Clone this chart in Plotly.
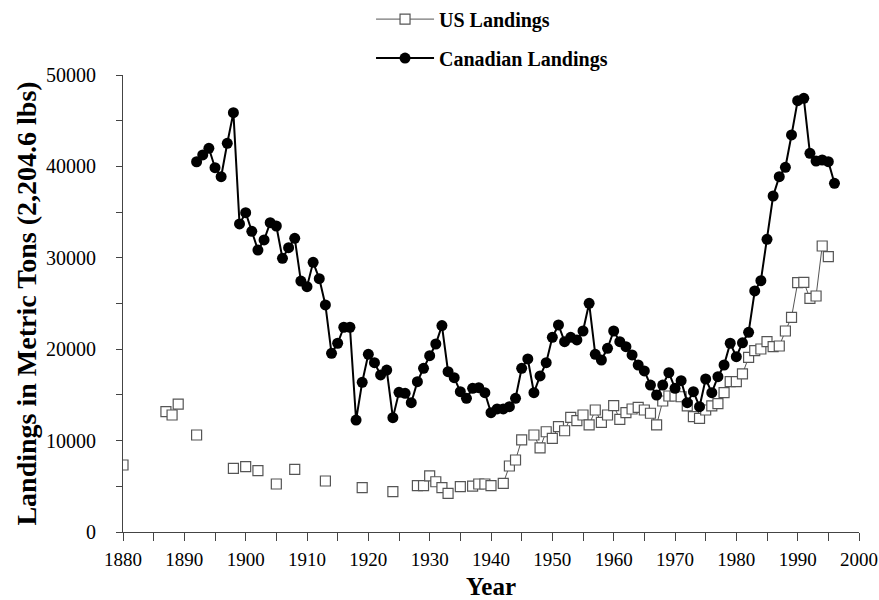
import plotly.graph_objects as go

# ---- data ----
can_years = list(range(1892, 1997))
can_values = [
    40510, 41250, 41980, 39860, 38870, 42530, 45880, 33700, 34940, 32900,   # 1892-1901
    30850, 31950, 33840, 33480, 29940, 31110, 32130, 27460, 26840, 29500,   # 1902-1911
    27720, 24840, 19550, 20650, 22400, 22400, 12250, 16380, 19440, 18520,   # 1912-1921
    17180, 17720, 12510, 15280, 15170, 14150, 16450, 17910, 19290, 20570,   # 1922-1931
    22580, 17540, 16880, 15350, 14630, 15720, 15790, 15240, 13050, 13460,   # 1932-1941
    13460, 13710, 14630, 17910, 18930, 15240, 17070, 18520, 21300, 22650,   # 1942-1951
    20820, 21300, 21010, 21990, 25020, 19440, 18820, 20100, 21990, 20820,   # 1952-1961
    20280, 19370, 18270, 17620, 16080, 14990, 16080, 17430, 15720, 16560,   # 1962-1971
    14150, 15350, 13710, 16740, 15240, 16990, 18270, 20650, 19180, 20700,   # 1972-1981
    21850, 26370, 27500, 32020, 36760, 38880, 39900, 43440, 47190, 47450,   # 1982-1991
    41430, 40590, 40700, 40520, 38150,                                      # 1992-1996
]

us_years = [
    1880, 1881, 1887, 1888, 1889, 1890, 1892, 1893, 1898, 1899, 1900, 1901,
    1902, 1903, 1905, 1906, 1908, 1909, 1913, 1914, 1919, 1920, 1924, 1925,
    1928, 1929, 1930, 1931, 1932, 1933, 1934, 1935, 1936, 1937, 1938, 1939,
    1940, 1941, 1942, 1943, 1944, 1945, 1946, 1947, 1948, 1949, 1950, 1951,
    1952, 1953, 1954, 1955, 1956, 1957, 1958, 1959, 1960, 1961, 1962, 1963,
    1964, 1965, 1966, 1967, 1968, 1969, 1970, 1971, 1972, 1973, 1974, 1975,
    1976, 1977, 1978, 1979, 1980, 1981, 1982, 1983, 1984, 1985, 1986, 1987,
    1988, 1989, 1990, 1991, 1992, 1993, 1994, 1995,
]
us_values = [
    7330, None, 13160, 12800, 14000, None, 10610, None, 6970, None, 7150, None,
    6710, None, 5250, None, 6860, None, 5580, None, 4850, None, 4410, None,
    5070, 5070, 6130, 5500, 4850, 4230, None, 4960, None, 5030, 5250, 5250,
    5070, None, 5330, 7220, 7880, 10070, None, 10610, 9200, 10970, 10250, 11520,
    11080, 12550, 12180, 12800, 11710, 13350, 12000, 12800, 13820, 12330, 13050, 13460,
    13640, 13350, 12990, 11710, 14330, 14880, 14880, 14800, 13790, 12620, 12440, 13350,
    13790, 14050, 15240, 16450, 16450, 17290, 19110, 19840, 20020, 20820, 20280, 20350,
    21990, 23490, 27280, 27320, 25570, 25820, 31290, 30120,
]

x_ticks = list(range(1880, 2001, 10))
y_ticks = list(range(0, 50001, 10000))

SERIF = "Liberation Serif, Times New Roman, serif"

fig = go.Figure()

fig.add_trace(go.Scatter(
    x=us_years, y=us_values, name="US Landings",
    mode="lines+markers", connectgaps=False, legendgroup="us",
    line=dict(color="#555555", width=1),
    marker=dict(symbol="square", size=10, color="white",
                line=dict(color="#555555", width=1.2)),
))
fig.add_trace(go.Scatter(
    x=can_years, y=can_values, name="Canadian Landings",
    mode="lines+markers", legendgroup="can",
    line=dict(color="black", width=2),
    marker=dict(symbol="circle", size=11, color="black"),
))

fig.update_layout(
    width=879, height=600,
    margin=dict(l=123, r=20, t=75, b=68, autoexpand=False),
    paper_bgcolor="white", plot_bgcolor="white",
    font=dict(family=SERIF, color="black", size=18),
    showlegend=True,
    legend=dict(
        x=0.337, y=1.165, xanchor="left", yanchor="top",
        font=dict(family=SERIF, size=20, color="black", weight="bold"),
        tracegroupgap=10, itemwidth=58, bgcolor="rgba(0,0,0,0)",
    ),
    xaxis=dict(
        range=[1880, 2000], tickvals=x_ticks, ticks="outside", ticklen=8,
        tickcolor="#444", showline=True, linecolor="#444", linewidth=1,
        showgrid=False, zeroline=False, ticklabelstandoff=2,
        minor=dict(dtick=5, ticks="outside", ticklen=8, tickcolor="#444"),
        tickfont=dict(family=SERIF, size=19), tickformat="d",
        title=dict(text="<b>Year</b>", font=dict(family=SERIF, size=25), standoff=8),
    ),
    yaxis=dict(
        range=[0, 50000], tickvals=y_ticks, ticks="outside", ticklen=6,
        tickcolor="#444", showline=True, linecolor="#444", linewidth=1,
        showgrid=False, zeroline=False, ticklabelstandoff=16,
        minor=dict(dtick=5000, ticks="outside", ticklen=6, tickcolor="#444"),
        tickfont=dict(family=SERIF, size=20), tickformat="d",
        title=dict(text="<b>Landings in Metric Tons (2,204.6 lbs)</b>",
                   font=dict(family=SERIF, size=28), standoff=1),
    ),
)

fig.write_html(
    "out.html",
    config={"displayModeBar": False},
    post_script="document.body.style.margin='0';document.body.style.overflow='hidden';",
)
